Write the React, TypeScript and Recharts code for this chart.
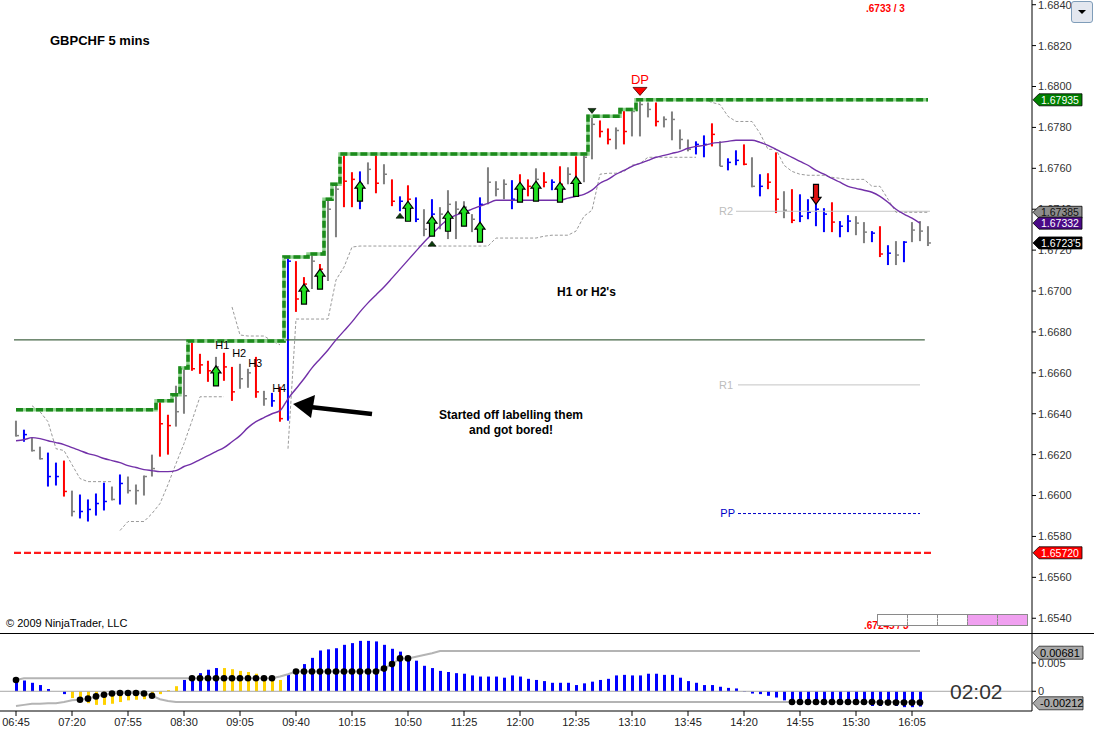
import React from "react";
import {
  ComposedChart, Bar, Line, Scatter, XAxis, YAxis, ReferenceLine, Cell,
} from "recharts";

const FONT = "Arial, 'Liberation Sans', sans-serif";

// time axis: one label every 7 bars (35 min), first bar = 06:45
const timeLabels = [
  "06:45", "07:20", "07:55", "08:30", "09:05", "09:40", "10:15", "10:50", "11:25",
  "12:00", "12:35", "13:10", "13:45", "14:20", "14:55", "15:30", "16:05",
];
const timeTicks = [0, 7, 14, 21, 28, 35, 42, 49, 56, 63, 70, 77, 84, 91, 98, 105, 112];

const priceTicks = [
  1.654, 1.656, 1.658, 1.66, 1.662, 1.664, 1.666, 1.668, 1.67, 1.672, 1.674, 1.676,
  1.678, 1.68, 1.682, 1.684,
];
const PRICE_DOMAIN = [1.65323, 1.68423];
const X_DOMAIN = [-2, 127];

// g = gray, r = red, b = blue
const barColorCodes = (
  "gbggbbrgbb" + "bbgbggggrr" + "ggrrrgrrgg" + "rgbrbrrgrg" + "grrbgrgrbr" +
  "bgbgggggbg" + "ggbrrgrbrg" + "rggrrgrggg" + "rggggbbrgb" + "brgbrrgrbb" +
  "bbrbbggbrb" + "gbggg"
).split("");

const highs = [
  1.66366, 1.66322, 1.66283, 1.66239, 1.6621, 1.66161, 1.66171, 1.66024, 1.66005, 1.65981,
  1.6601, 1.66063, 1.66044, 1.66103, 1.66093, 1.66054, 1.66098, 1.662, 1.66463, 1.66395,
  1.66537, 1.66629, 1.66756, 1.66693, 1.66659, 1.66678, 1.66698, 1.66629, 1.66644, 1.6662,
  1.66678, 1.66512, 1.66502, 1.66532, 1.67166, 1.67146, 1.67068, 1.67181, 1.67132, 1.67449,
  1.67522, 1.67668, 1.67581, 1.67585, 1.67629, 1.67668, 1.6762, 1.67546, 1.67463, 1.67517,
  1.67458, 1.674, 1.67449, 1.6741, 1.67493, 1.67439, 1.67439, 1.67376, 1.67458, 1.67605,
  1.67537, 1.67546, 1.67542, 1.67571, 1.67546, 1.676, 1.67581, 1.67546, 1.6761, 1.67605,
  1.67659, 1.67673, 1.67854, 1.67834, 1.67795, 1.678, 1.67888, 1.67893, 1.67937, 1.67922,
  1.67922, 1.67854, 1.67878, 1.6779, 1.67741, 1.67732, 1.67761, 1.6782, 1.67732, 1.67649,
  1.67688, 1.67717, 1.67654, 1.67571, 1.67576, 1.67678, 1.67488, 1.67498, 1.67473, 1.67449,
  1.67439, 1.67405, 1.67434, 1.67342, 1.67371, 1.67366, 1.67337, 1.67293, 1.67317, 1.67224,
  1.67244, 1.67244, 1.67337, 1.67342, 1.67317,
];
const lows = [
  1.66288, 1.66263, 1.66215, 1.66176, 1.66044, 1.66049, 1.65995, 1.65898, 1.65888, 1.65873,
  1.65902, 1.65927, 1.65976, 1.65956, 1.6601, 1.65956, 1.66, 1.66093, 1.6619, 1.662,
  1.66337, 1.664, 1.6661, 1.66595, 1.66556, 1.66571, 1.66561, 1.66463, 1.66522, 1.66527,
  1.66478, 1.66439, 1.66434, 1.66361, 1.66366, 1.66898, 1.6701, 1.6701, 1.67049, 1.67049,
  1.67263, 1.6741, 1.6741, 1.674, 1.67522, 1.67478, 1.67522, 1.67415, 1.6739, 1.67346,
  1.67337, 1.67268, 1.67268, 1.67302, 1.67254, 1.67254, 1.67317, 1.67288, 1.67268, 1.67424,
  1.67463, 1.67449, 1.674, 1.67439, 1.67463, 1.67449, 1.67507, 1.67493, 1.67463, 1.67522,
  1.67488, 1.67532, 1.67644, 1.67751, 1.67717, 1.67693, 1.67717, 1.67756, 1.67756, 1.67849,
  1.67805, 1.678, 1.67737, 1.67693, 1.67683, 1.67668, 1.67654, 1.67707, 1.6761, 1.6759,
  1.67615, 1.67615, 1.67507, 1.67463, 1.67498, 1.67381, 1.67356, 1.67332, 1.67337, 1.67351,
  1.67317, 1.67288, 1.67288, 1.67263, 1.67288, 1.67273, 1.67234, 1.67239, 1.67166, 1.67127,
  1.67127, 1.67141, 1.67239, 1.67244, 1.6722,
];
const closes = [
  1.66293, 1.66298, 1.6622, 1.6618, 1.66093, 1.66093, 1.6602, 1.65922, 1.65922, 1.65932,
  1.65961, 1.65971, 1.65981, 1.66059, 1.66024, 1.66024, 1.66093, 1.66132, 1.66351, 1.66342,
  1.6641, 1.66488, 1.6662, 1.66639, 1.6661, 1.66629, 1.66629, 1.66507, 1.66571, 1.666,
  1.66507, 1.66473, 1.66463, 1.66376, 1.67146, 1.66961, 1.67034, 1.67146, 1.67107, 1.674,
  1.67498, 1.67537, 1.67546, 1.67522, 1.67595, 1.67527, 1.67571, 1.67439, 1.67439, 1.67449,
  1.67351, 1.67302, 1.67376, 1.67376, 1.67424, 1.674, 1.6741, 1.67351, 1.67424, 1.67532,
  1.67498, 1.67522, 1.67449, 1.67498, 1.67512, 1.67546, 1.67532, 1.67532, 1.67522, 1.67571,
  1.67546, 1.67654, 1.67815, 1.6778, 1.67741, 1.67785, 1.6778, 1.67878, 1.67912, 1.67888,
  1.67829, 1.67839, 1.67839, 1.67741, 1.67693, 1.67717, 1.67717, 1.67766, 1.6761, 1.67629,
  1.67639, 1.6762, 1.67512, 1.67512, 1.67532, 1.67449, 1.67395, 1.67346, 1.67366, 1.67385,
  1.674, 1.67376, 1.67337, 1.67317, 1.67342, 1.67332, 1.67288, 1.67283, 1.67181, 1.67185,
  1.67176, 1.67239, 1.67298, 1.67293, 1.67235,
];

// highest-high channel (green dashed step)
const channelHigh = [
  1.6642, 1.6642, 1.6642, 1.6642, 1.6642, 1.6642, 1.6642, 1.6642, 1.6642, 1.6642,
  1.6642, 1.6642, 1.6642, 1.6642, 1.6642, 1.6642, 1.6642, 1.6642, 1.66463, 1.66463,
  1.66493, 1.66624, 1.66756, 1.66756, 1.66756, 1.66756, 1.66756, 1.66756, 1.66756, 1.66756,
  1.66756, 1.66756, 1.66756, 1.66756, 1.67166, 1.67166, 1.67166, 1.67181, 1.67181, 1.67449,
  1.67522, 1.6767, 1.6767, 1.6767, 1.6767, 1.6767, 1.6767, 1.6767, 1.6767, 1.6767,
  1.6767, 1.6767, 1.6767, 1.6767, 1.6767, 1.6767, 1.6767, 1.6767, 1.6767, 1.6767,
  1.6767, 1.6767, 1.6767, 1.6767, 1.6767, 1.6767, 1.6767, 1.6767, 1.6767, 1.6767,
  1.6767, 1.6767, 1.67854, 1.67854, 1.67854, 1.67854, 1.67888, 1.67888, 1.67935, 1.67935,
  1.67935, 1.67935, 1.67935, 1.67935, 1.67935, 1.67935, 1.67935, 1.67935, 1.67935, 1.67935,
  1.67935, 1.67935, 1.67935, 1.67935, 1.67935, 1.67935, 1.67935, 1.67935, 1.67935, 1.67935,
  1.67935, 1.67935, 1.67935, 1.67935, 1.67935, 1.67935, 1.67935, 1.67935, 1.67935, 1.67935,
  1.67935, 1.67935, 1.67935, 1.67935, 1.67935,
];

const movingAvg = [
  1.66268, 1.66273, 1.66283, 1.66278, 1.66268, 1.66259, 1.66249, 1.66234, 1.6622, 1.66205,
  1.66195, 1.66181, 1.66171, 1.66161, 1.66146, 1.66137, 1.66127, 1.66122, 1.66117, 1.66117,
  1.66122, 1.66142, 1.66156, 1.66176, 1.66195, 1.66215, 1.66234, 1.66263, 1.66293, 1.66332,
  1.66361, 1.66381, 1.664, 1.66415, 1.66473, 1.66522, 1.66571, 1.66624, 1.66668, 1.66712,
  1.66761, 1.66805, 1.66849, 1.66898, 1.66942, 1.66981, 1.6702, 1.67063, 1.67107, 1.67151,
  1.67195, 1.67239, 1.67278, 1.67317, 1.67351, 1.67371, 1.67385, 1.674, 1.67415, 1.67429,
  1.67444, 1.67444, 1.67444, 1.67444, 1.67444, 1.67444, 1.67444, 1.67444, 1.67444, 1.67454,
  1.67463, 1.67473, 1.67493, 1.67527, 1.67546, 1.67571, 1.6759, 1.6761, 1.67624, 1.67639,
  1.67654, 1.67663, 1.67673, 1.67683, 1.67698, 1.67707, 1.67712, 1.67722, 1.67727, 1.67732,
  1.67737, 1.67737, 1.67737, 1.67727, 1.67712, 1.67693, 1.67673, 1.67654, 1.67634, 1.67615,
  1.6759, 1.67571, 1.67551, 1.67532, 1.67512, 1.67502, 1.67493, 1.67483, 1.67463, 1.67434,
  1.674, 1.67376, 1.67356, 1.67332, null,
];

// trailing stop, gray dashed: above price in down legs, below in up legs
const stopAbove = [
  null, null, 1.66439, 1.6641, 1.66361, 1.66229, 1.6622, 1.66151, 1.66083, 1.66068,
  1.66068, 1.66068, 1.66068, null, null, null, null, null, null, null,
  null, null, null, null, null, null, null, 1.66922, 1.66785, 1.6678,
  1.6678, 1.6678, 1.66756, 1.66737, null, null, null, null, null, null,
  null, null, null, null, null, null, null, null, null, null,
  null, null, null, null, null, null, null, null, null, null,
  null, null, null, null, null, null, null, null, null, null,
  null, null, null, null, null, null, null, null, null, null,
  null, null, null, null, null, null, 1.67937, 1.67922, 1.67912, 1.67854,
  1.67829, 1.67829, 1.67829, 1.67771, 1.67693, 1.67693, 1.67615, 1.67585, 1.67571, 1.67566,
  1.67566, 1.67566, 1.67556, 1.67551, 1.67546, 1.67546, 1.67546, 1.67512, 1.67512, 1.67449,
  1.67385, 1.67385, 1.67385, 1.67385, 1.67385,
];
const stopBelow = [
  null, null, null, null, null, null, null, null, null, null,
  null, null, null, 1.65829, 1.65873, 1.65873, 1.65873, 1.65912, 1.65961, 1.66054,
  1.66156, 1.66254, 1.66366, 1.66483, 1.66483, 1.66483, 1.66483, null, null, null,
  null, null, null, null, 1.66229, 1.66863, 1.66863, 1.66863, 1.66863, 1.66863,
  1.67054, 1.67117, 1.67215, 1.6722, 1.6722, 1.6722, 1.6722, 1.6722, 1.6722, 1.6722,
  1.6722, 1.6722, 1.6722, 1.6722, 1.6722, 1.6722, 1.6722, 1.6722, 1.6722, 1.6722,
  1.67259, 1.67259, 1.67259, 1.67259, 1.67259, 1.67259, 1.67268, 1.67273, 1.67273, 1.67273,
  1.67293, 1.67366, 1.67395, 1.67571, 1.67576, 1.67576, 1.67585, 1.67615, 1.67624, 1.67654,
  1.67654, 1.67654, 1.67654, 1.67654, 1.67654, 1.67654, null, null, null, null,
  null, null, null, null, null, null, null, null, null, null,
  null, null, null, null, null, null, null, null, null, null,
  null, null, null, null, null,
];

const levelR2 = 1.6739;
const levelR1 = 1.66541;
const levelPP = 1.65912;
const levelSupport = 1.6572;
const levelDrawn = 1.66761;

const upArrows = [
  { i: 25, p: 1.66634 }, { i: 36, p: 1.67034 }, { i: 38, p: 1.67107 }, { i: 43, p: 1.67537 },
  { i: 49, p: 1.67439 }, { i: 52, p: 1.67366 }, { i: 54, p: 1.6739 }, { i: 56, p: 1.67415 },
  { i: 58, p: 1.67337 }, { i: 63, p: 1.67532 }, { i: 65, p: 1.67537 }, { i: 68, p: 1.67532 },
  { i: 70, p: 1.67561 },
];
const downArrows = [{ i: 100, p: 1.67424 }];
const smallTriangles = [
  { i: 48, p: 1.67366, dir: "up" }, { i: 52, p: 1.67229, dir: "up" }, { i: 72, p: 1.67883, dir: "down" },
];
const dpMarkers = [{ i: 78, p: 1.67976, t: "DP" }];
const hLabels = [
  { i: 25.8, p: 1.66717, t: "H1" }, { i: 27.9, p: 1.66678, t: "H2" },
  { i: 29.9, p: 1.66629, t: "H3" }, { i: 32.9, p: 1.66507, t: "H4" },
];
const priceTags = [
  { i: 127, p: 1.67935, t: "1.67935", bg: "#008000", fg: "#fff" },
  { i: 127, p: 1.67385, t: "1.67385", bg: "#8c8c8c", fg: "#111" },
  { i: 127, p: 1.67332, t: "1.67332", bg: "#4b0a87", fg: "#fff" },
  { i: 127, p: 1.67235, t: "1.6723'5", bg: "#000", fg: "#fff" },
  { i: 127, p: 1.6572, t: "1.65720", bg: "#ff0000", fg: "#fff" },
];

// lower panel oscillator
const oscHist = [
  0.002, 0.0019, 0.0015, 0.0011, 0.0004, null, -0.0005, -0.0012, -0.0018, -0.0021,
  -0.0024, -0.0024, -0.0022, -0.0019, -0.0016, -0.0015, -0.0014, -0.0011, -0.0005, 0.0002,
  0.0009, 0.002, 0.0026, 0.0032, 0.0038, 0.0041, 0.0041, 0.0039, 0.0036, 0.0034,
  0.0031, 0.0026, 0.0022, 0.002, 0.0029, 0.0038, 0.0048, 0.0059, 0.0072, 0.0074,
  0.0076, 0.0082, 0.0085, 0.0089, 0.0089, 0.0088, 0.0082, 0.0075, 0.007, 0.0061,
  0.0054, 0.0045, 0.0041, 0.0036, 0.0034, 0.0032, 0.0031, 0.0028, 0.0026, 0.0026,
  0.0026, 0.0024, 0.0028, 0.0026, 0.0022, 0.002, 0.0018, 0.0015, 0.0015, 0.0015,
  0.0011, 0.0014, 0.0017, 0.002, 0.0022, 0.0028, 0.0029, 0.0028, 0.0028, 0.0031,
  0.0031, 0.0029, 0.0029, 0.0024, 0.0018, 0.0015, 0.0011, 0.0011, 0.0008, 0.0006,
  0.0005, -0.0001, -0.0004, -0.0005, -0.0008, -0.0011, -0.0016, -0.0024, -0.0024, -0.0024,
  -0.0024, -0.0024, -0.0024, -0.0024, -0.0024, -0.0024, -0.0024, -0.0026, -0.0026, -0.0024,
  -0.0026, -0.0028, -0.0028, -0.0027, null,
];
// b = blue, y = gold
const oscColorCodes = (
  "bbbbbbbyyy" + "yyyyyyyyyy" + "ybbbbbyyyy" + "yyyybbbbbb" + "bbbbbbbbbb" +
  "bbbbbbbbbb" + "bbbbbbbbbb" + "bbbbbbbbbb" + "bbbbbbbbbb" + "bbbbbbbbbb" +
  "bbbbbbbbbb" + "bbbbb"
).split("");
const oscDots = [
  0.002, null, null, null, null, null, null, null, -0.0015, -0.0013,
  -0.0009, -0.0006, -0.0004, -0.0003, -0.0003, -0.0003, -0.0004, -0.0008, null, null,
  null, null, 0.0023, 0.0023, 0.0023, 0.0023, 0.0023, 0.0023, 0.0023, 0.0023,
  0.0023, 0.0023, 0.0023, null, null, 0.0035, 0.0035, 0.0035, 0.0035, 0.0035,
  0.0035, 0.0035, 0.0035, 0.0035, 0.0035, 0.0035, 0.004, 0.0048, 0.0058, 0.0058,
  null, null, null, null, null, null, null, null, null, null,
  null, null, null, null, null, null, null, null, null, null,
  null, null, null, null, null, null, null, null, null, null,
  null, null, null, null, null, null, null, null, null, null,
  null, null, null, null, null, null, null, -0.0019, -0.0019, -0.0019,
  -0.0019, -0.0019, -0.0019, -0.0019, -0.0019, -0.0019, -0.0019, -0.0019, -0.002, -0.002,
  -0.002, -0.002, -0.002, -0.002, null,
];
const bandUpper = [
  0.002, 0.0023, 0.0023, 0.0023, 0.0023, 0.0023, 0.0023, 0.0023, 0.0023, 0.0023,
  0.0023, 0.0023, 0.0023, 0.0023, 0.0023, 0.0023, 0.0023, 0.0023, 0.0023, 0.0023,
  0.0023, 0.0023, 0.0023, 0.0023, 0.0023, 0.0023, 0.0023, 0.0023, 0.0023, 0.0023,
  0.0023, 0.0023, 0.0023, 0.0026, 0.003, 0.0035, 0.0035, 0.0035, 0.0035, 0.0035,
  0.0035, 0.0035, 0.0035, 0.0035, 0.0035, 0.0035, 0.004, 0.0048, 0.0058, 0.0058,
  0.0061, 0.0064, 0.0067, 0.0071, 0.0071, 0.0071, 0.0071, 0.0071, 0.0071, 0.0071,
  0.0071, 0.0071, 0.0071, 0.0071, 0.0071, 0.0071, 0.0071, 0.0071, 0.0071, 0.0071,
  0.0071, 0.0071, 0.0071, 0.0071, 0.0071, 0.0071, 0.0071, 0.0071, 0.0071, 0.0071,
  0.0071, 0.0071, 0.0071, 0.0071, 0.0071, 0.0071, 0.0071, 0.0071, 0.0071, 0.0071,
  0.0071, 0.0071, 0.0071, 0.0071, 0.0071, 0.0071, 0.0071, 0.0071, 0.0071, 0.0071,
  0.0071, 0.0071, 0.0071, 0.0071, 0.0071, 0.0071, 0.0071, 0.0071, 0.0071, 0.0071,
  0.0071, 0.0071, 0.0071, 0.0071, null,
];
const bandLower = [
  -0.0026, -0.0024, -0.0022, -0.0022, -0.0021, -0.0021, -0.0019, -0.0016, -0.0015, -0.0013,
  -0.0009, -0.0006, -0.0004, -0.0003, -0.0003, -0.0003, -0.0004, -0.0008, -0.0014, -0.0017,
  -0.0019, -0.0019, -0.0019, -0.0019, -0.0019, -0.0019, -0.0019, -0.0019, -0.0019, -0.0019,
  -0.0019, -0.0019, -0.0019, -0.0019, -0.0019, -0.0019, -0.0019, -0.0019, -0.0019, -0.0019,
  -0.0019, -0.0019, -0.0019, -0.0019, -0.0019, -0.0019, -0.0019, -0.0019, -0.0019, -0.0019,
  -0.0019, -0.0019, -0.0019, -0.0019, -0.0019, -0.0019, -0.0019, -0.0019, -0.0019, -0.0019,
  -0.0019, -0.0019, -0.0019, -0.0019, -0.0019, -0.0019, -0.0019, -0.0019, -0.0019, -0.0019,
  -0.0019, -0.0019, -0.0019, -0.0019, -0.0019, -0.0019, -0.0019, -0.0019, -0.0019, -0.0019,
  -0.0019, -0.0019, -0.0019, -0.0019, -0.0019, -0.0019, -0.0019, -0.0019, -0.0019, -0.0019,
  -0.0019, -0.0019, -0.0019, -0.0019, -0.0019, -0.0019, -0.0019, -0.0019, -0.0019, -0.0019,
  -0.0019, -0.0019, -0.0019, -0.0019, -0.0019, -0.0019, -0.0019, -0.0019, -0.0019, -0.0019,
  -0.0019, -0.0019, -0.0019, -0.0019, null,
];
const oscTags = [
  { i: 127, v: 0.00681, t: "0.00681" },
  { i: 127, v: -0.00212, t: "-0.00212" },
];

const BAR_COLORS: Record<string, string> = { g: "#808080", r: "#ff0000", b: "#0000ff" };
const OSC_COLORS: Record<string, string> = { b: "#0000ff", y: "#ffd200" };

const priceData = highs.map((h, i) => ({
  i,
  range: [lows[i], h],
  high: h,
  low: lows[i],
  close: closes[i],
  color: BAR_COLORS[barColorCodes[i]],
  chan: channelHigh[i],
  ma: movingAvg[i],
  stopU: stopAbove[i],
  stopL: stopBelow[i],
}));

const oscData = oscHist.map((v, i) => ({
  i,
  hist: v,
  up: bandUpper[i],
  lo: bandLower[i],
}));
const oscDotData = oscDots
  .map((v, i) => ({ i, v }))
  .filter((d) => d.v != null);

function OhlcBar(props: any) {
  const { x, y, width, height, payload } = props;
  if (x == null || !payload) return null;
  const cx = x + width / 2;
  const top = Math.min(y, y + height);
  const h = Math.max(Math.abs(height), 1);
  const span = payload.high - payload.low;
  const cy = top + (span ? ((payload.high - payload.close) / span) * h : 0);
  return (
    <g>
      <line x1={cx} x2={cx} y1={top} y2={top + h} stroke={payload.color} strokeWidth={2} />
      <line x1={cx} x2={cx + 3} y1={cy} y2={cy} stroke={payload.color} strokeWidth={1.5} />
    </g>
  );
}

function UpArrow({ cx, cy }: any) {
  const pts = [
    [cx, cy], [cx + 5, cy + 7], [cx + 2.5, cy + 7], [cx + 2.5, cy + 20],
    [cx - 2.5, cy + 20], [cx - 2.5, cy + 7], [cx - 5, cy + 7],
  ].map((p) => p.join(",")).join(" ");
  return <polygon points={pts} fill="#1fe01f" stroke="#000" strokeWidth={1.2} />;
}

function DownArrow({ cx, cy }: any) {
  const pts = [
    [cx, cy], [cx - 5, cy - 7], [cx - 2.5, cy - 7], [cx - 2.5, cy - 20],
    [cx + 2.5, cy - 20], [cx + 2.5, cy - 7], [cx + 5, cy - 7],
  ].map((p) => p.join(",")).join(" ");
  return <polygon points={pts} fill="#e01010" stroke="#000" strokeWidth={1.2} />;
}

function SmallTriangle({ cx, cy, payload }: any) {
  const d = payload.dir === "up"
    ? `M${cx - 4},${cy + 2} L${cx + 4},${cy + 2} L${cx},${cy - 3} Z`
    : `M${cx - 4},${cy - 2} L${cx + 4},${cy - 2} L${cx},${cy + 3} Z`;
  return <path d={d} fill="#0b3d0b" stroke="#000" strokeWidth={0.6} />;
}

function DpMarker({ cx, cy, payload }: any) {
  return (
    <g>
      <path d={`M${cx - 7},${cy - 4} L${cx + 7},${cy - 4} L${cx},${cy + 4} Z`} fill="#ff0000" stroke="#400" strokeWidth={0.8} />
      <text x={cx} y={cy - 7} textAnchor="middle" fontSize={13} fontFamily={FONT} fill="#ff0000">{payload.t}</text>
    </g>
  );
}

function TextMark({ cx, cy, payload }: any) {
  return (
    <text x={cx} y={cy} textAnchor="middle" fontSize={11} fontFamily={FONT} fill="#000">{payload.t}</text>
  );
}

function PriceTag({ cx, cy, payload }: any) {
  const x0 = cx + 1;
  const pts = `${x0},${cy} ${x0 + 6},${cy - 6} ${x0 + 49},${cy - 6} ${x0 + 49},${cy + 6} ${x0 + 6},${cy + 6}`;
  return (
    <g>
      <polygon points={pts} fill={payload.bg} stroke="#000" strokeWidth={0.8} />
      <text x={x0 + 8} y={cy + 4} fontSize={10.5} fontFamily={FONT} fill={payload.fg}>{payload.t}</text>
    </g>
  );
}

function OscTag({ cx, cy, payload }: any) {
  const x0 = cx + 1;
  const pts = `${x0},${cy} ${x0 + 6},${cy - 6.5} ${x0 + 50},${cy - 6.5} ${x0 + 50},${cy + 6.5} ${x0 + 6},${cy + 6.5}`;
  return (
    <g>
      <polygon points={pts} fill="#a8a8a8" stroke="#222" strokeWidth={0.8} />
      <text x={x0 + 7} y={cy + 4} fontSize={11} fontFamily={FONT} fill="#000">{payload.t}</text>
    </g>
  );
}

function OscDot({ cx, cy }: any) {
  return <circle cx={cx} cy={cy} r={3.3} fill="#000" />;
}

const txt = (extra: React.CSSProperties): React.CSSProperties => ({
  position: "absolute", fontFamily: FONT, whiteSpace: "nowrap", pointerEvents: "none", ...extra,
});

export default function App() {
  return (
    <div style={{ position: "absolute", left: 0, top: 0, width: 1094, height: 737, background: "#fff", overflow: "hidden" }}>
      <div style={{ position: "absolute", left: 0, top: 0 }}>
        <ComposedChart width={1094} height={634} data={priceData} margin={{ top: 0, right: 0, bottom: 0, left: 0 }}>
          <XAxis dataKey="i" type="number" domain={X_DOMAIN} hide />
          <YAxis
            orientation="right" width={62} domain={PRICE_DOMAIN} ticks={priceTicks} interval={0}
            tickFormatter={(v: number) => v.toFixed(4)} tickSize={4} tickMargin={2}
            tick={{ fontSize: 11, fill: "#333", fontFamily: FONT }}
            axisLine={{ stroke: "#000" }} tickLine={{ stroke: "#000" }}
          />
          <ReferenceLine segment={[{ x: -0.25, y: levelDrawn }, { x: 113.6, y: levelDrawn }]} stroke="#17401a" strokeWidth={1} />
          <ReferenceLine segment={[{ x: -0.25, y: levelSupport }, { x: 114.5, y: levelSupport }]} stroke="#ff1a1a" strokeWidth={2.2} strokeDasharray="7 3" />
          <ReferenceLine segment={[{ x: 90, y: levelR2 }, { x: 114.25, y: levelR2 }]} stroke="#c4c4c4" strokeWidth={1}
            label={{ value: "R2", position: "left", fill: "#bdbdbd", fontSize: 11, fontFamily: FONT, offset: 3 }} />
          <ReferenceLine segment={[{ x: 90.25, y: levelR1 }, { x: 113, y: levelR1 }]} stroke="#c4c4c4" strokeWidth={1}
            label={{ value: "R1", position: "left", fill: "#bdbdbd", fontSize: 11, fontFamily: FONT, offset: 5 }} />
          <ReferenceLine segment={[{ x: 90.25, y: levelPP }, { x: 113, y: levelPP }]} stroke="#0000c8" strokeWidth={1} strokeDasharray="3 2"
            label={{ value: "PP", position: "left", fill: "#0000c8", fontSize: 11, fontFamily: FONT, offset: 3 }} />
          <Line dataKey="stopU" type="linear" stroke="#9a9a9a" strokeWidth={1} strokeDasharray="3 2" dot={false} activeDot={false} isAnimationActive={false} />
          <Line dataKey="stopL" type="linear" stroke="#9a9a9a" strokeWidth={1} strokeDasharray="3 2" dot={false} activeDot={false} isAnimationActive={false} />
          <Line dataKey="ma" type="monotone" stroke="#7230a8" strokeWidth={1.4} dot={false} activeDot={false} isAnimationActive={false} />
          <Line dataKey="chan" type="step" stroke="#93d393" strokeWidth={3.5} dot={false} activeDot={false} isAnimationActive={false} />
          <Line dataKey="chan" type="step" stroke="#1c8a1c" strokeWidth={3.5} strokeDasharray="7 3" dot={false} activeDot={false} isAnimationActive={false} />
          <Bar dataKey="range" barSize={2} shape={OhlcBar} activeBar={false} isAnimationActive={false} />
          <Scatter data={upArrows} dataKey="p" shape={UpArrow} isAnimationActive={false} />
          <Scatter data={downArrows} dataKey="p" shape={DownArrow} isAnimationActive={false} />
          <Scatter data={smallTriangles} dataKey="p" shape={SmallTriangle} isAnimationActive={false} />
          <Scatter data={dpMarkers} dataKey="p" shape={DpMarker} isAnimationActive={false} />
          <Scatter data={hLabels} dataKey="p" shape={TextMark} isAnimationActive={false} />
        </ComposedChart>
      </div>

      {/* last-value tags sit above the price axis labels, same scales */}
      <div style={{ position: "absolute", left: 0, top: 0, pointerEvents: "none" }}>
        <ComposedChart width={1094} height={634} data={priceTags} margin={{ top: 0, right: 62, bottom: 0, left: 0 }}>
          <XAxis dataKey="i" type="number" domain={X_DOMAIN} hide />
          <YAxis domain={PRICE_DOMAIN} hide />
          <Scatter data={priceTags} dataKey="p" shape={PriceTag} isAnimationActive={false} />
        </ComposedChart>
      </div>

      <div style={{ position: "absolute", left: 0, top: 634 }}>
        <ComposedChart width={1094} height={103} data={oscData} margin={{ top: 0, right: 0, bottom: 0, left: 0 }}>
          <XAxis
            dataKey="i" type="number" domain={X_DOMAIN} ticks={timeTicks} interval={0} height={26}
            tickFormatter={(v: number) => timeLabels[timeTicks.indexOf(v)]} tickSize={5} tickMargin={2}
            tick={{ fontSize: 11, fill: "#222", fontFamily: FONT }}
            axisLine={{ stroke: "#000" }} tickLine={{ stroke: "#000" }}
          />
          <YAxis
            orientation="right" width={62} domain={[-0.00348, 0.01011]} ticks={[0, 0.005]} interval={0}
            tickFormatter={(v: number) => (v === 0 ? "0" : String(v))} tickSize={4} tickMargin={2}
            tick={{ fontSize: 11, fill: "#333", fontFamily: FONT }}
            axisLine={{ stroke: "#000" }} tickLine={{ stroke: "#000" }}
          />
          <ReferenceLine y={0} stroke="#a8a8a8" strokeWidth={1} />
          <Bar dataKey="hist" barSize={3} activeBar={false} isAnimationActive={false}>
            {oscData.map((d) => (
              <Cell key={d.i} fill={OSC_COLORS[oscColorCodes[d.i]]} />
            ))}
          </Bar>
          <Line dataKey="up" type="linear" stroke="#b4b4b4" strokeWidth={2} dot={false} activeDot={false} isAnimationActive={false} />
          <Line dataKey="lo" type="linear" stroke="#b4b4b4" strokeWidth={2} dot={false} activeDot={false} isAnimationActive={false} />
          <Scatter data={oscDotData} dataKey="v" shape={OscDot} isAnimationActive={false} />
          <Scatter data={oscTags} dataKey="v" shape={OscTag} isAnimationActive={false} />
        </ComposedChart>
      </div>

      {/* panel separator */}
      <div style={{ position: "absolute", left: 0, top: 633, width: 1094, height: 1, background: "#000" }} />

      {/* annotations */}
      <div style={txt({ left: 50, top: 33, fontSize: 13, fontWeight: "bold", color: "#000" })}>GBPCHF 5 mins</div>
      <div style={txt({ left: 557, top: 285, fontSize: 12, fontWeight: "bold", color: "#000" })}>H1 or H2's</div>
      <div style={txt({ left: 411, top: 408, width: 200, textAlign: "center", fontSize: 12, fontWeight: "bold", lineHeight: "15px", color: "#000" })}>
        Started off labelling them<br />and got bored!
      </div>
      <svg style={{ position: "absolute", left: 0, top: 0, pointerEvents: "none" }} width={1094} height={737}>
        <line x1={372} y1={414} x2={310} y2={407} stroke="#000" strokeWidth={4.5} />
        <polygon points="293,404 315,395 311,418" fill="#000" />
      </svg>
      <div style={txt({ left: 6, top: 617, fontSize: 11, color: "#000" })}>© 2009 NinjaTrader, LLC</div>
      <div style={txt({ left: 866, top: 3, fontSize: 10, fontWeight: "bold", color: "#ff0000" })}>.6733 / 3</div>
      <div style={{ position: "absolute", left: 864, top: 620, width: 60, height: 12, overflow: "hidden" }}>
        <div style={txt({ left: 0, top: 0, fontSize: 10, fontWeight: "bold", color: "#ff0000" })}>.67245 / 3</div>
      </div>
      <div style={{ position: "absolute", left: 877, top: 614, width: 149, height: 10, border: "1px solid #8a8a8a", background: "#fff", display: "flex" }}>
        {[0, 1, 2, 3, 4].map((k) => (
          <div key={k} style={{ flex: 1, height: "100%", background: k >= 3 ? "#f0a0f0" : "#fff", borderLeft: k > 0 ? "1px dashed #8a8a8a" : "none" }} />
        ))}
      </div>
      <div style={{ position: "absolute", left: 1071, top: 1, width: 20, height: 20, border: "1px solid #7f9db9", borderRadius: 3, background: "#e3e7ef" }}>
        <svg width={20} height={20} style={{ position: "absolute", left: 0, top: 0 }}>
          <path d="M6,8 L14,8 L10,12 Z" fill="#000" />
        </svg>
      </div>
      <div style={txt({ left: 950, top: 680, fontSize: 21, color: "#333" })}>02:02</div>
    </div>
  );
}
